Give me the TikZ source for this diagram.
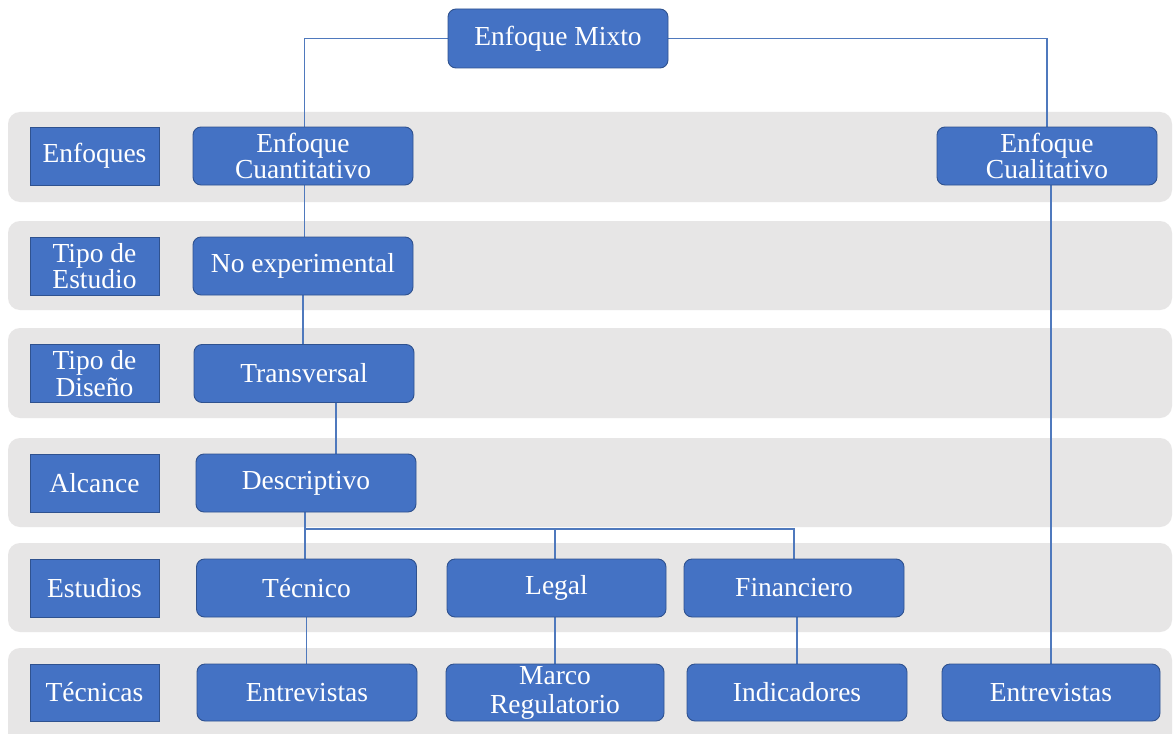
\documentclass[tikz,border=0pt]{standalone}
\usepackage{fontspec}
\setmainfont{Liberation Serif}
\usetikzlibrary{backgrounds}
\pgfdeclarelayer{lines}
\pgfsetlayers{background,lines,main}
\definecolor{boxblue}{RGB}{68,114,196}
\definecolor{boxborder}{RGB}{47,82,143}
\definecolor{linkblue}{RGB}{79,121,189}
\definecolor{bandgray}{RGB}{231,230,230}
\tikzset{
  stagebox/.style={draw=boxborder, fill=boxblue, rounded corners=8pt, text=white,
    align=center, inner sep=0pt, line width=0.9pt, minimum width=220pt, minimum height=58pt,
    font=\fontsize{27.5}{26.5}\selectfont},
  rowlabel/.style={stagebox, rounded corners=0pt, minimum width=129pt},
  band/.style={fill=bandgray, rounded corners=12pt},
  link/.style={draw=linkblue, line width=1.1pt}
}
\begin{document}
\begin{tikzpicture}[x=1pt,y=-1pt]
\useasboundingbox (0,0) rectangle (1174,733);
\clip (0,0) rectangle (1174,733);
% bands
\begin{pgfonlayer}{background}
\fill[white] (0,0) rectangle (1174,733);
\fill[band] (8,112) rectangle (1172,202);
\fill[band] (8,221) rectangle (1172,310);
\fill[band] (8,328) rectangle (1172,418);
\fill[band] (8,438) rectangle (1172,527);
\fill[band] (8,543) rectangle (1172,632);
\fill[band] (8,648) rectangle (1172,748);
\end{pgfonlayer}
% nodes
\node[stagebox, minimum height=59pt] (mixto) at (558,38.5) {Enfoque Mixto};
\node[rowlabel] (lenf) at (94.5,156) {Enfoques};
\node[stagebox] (cuant) at (303,156) {Enfoque\\Cuantitativo};
\node[stagebox] (cual) at (1047,156) {Enfoque\\Cualitativo};
\node[rowlabel] (lte) at (94.5,266) {Tipo de\\Estudio};
\node[stagebox] (noexp) at (303,266) {No experimental};
\node[rowlabel] (ltd) at (94.5,373.5) {Tipo de\\Diseño};
\node[stagebox] (transv) at (304,373.5) {Transversal};
\node[rowlabel] (lalc) at (94.5,483) {Alcance};
\node[stagebox] (desc) at (306,483) {Descriptivo};
\node[rowlabel] (lest) at (94.5,588) {Estudios};
\node[stagebox] (tec) at (306.5,588) {Técnico};
\node[stagebox, minimum width=219pt] (legal) at (556.5,588) {Legal};
\node[stagebox] (fin) at (794,588) {Financiero};
\node[rowlabel, minimum height=57pt] (ltecn) at (94.5,692.5) {Técnicas};
\node[stagebox, minimum height=57pt] (ent1) at (307,692.5) {Entrevistas};
\node[stagebox, minimum height=57pt, minimum width=218pt, font=\fontsize{27.5}{29}\selectfont] (marco) at (555,692.5) {Marco\\Regulatorio};
\node[stagebox, minimum height=57pt] (ind) at (797,692.5) {Indicadores};
\node[stagebox, minimum height=57pt, minimum width=218pt] (ent2) at (1051,692.5) {Entrevistas};
\coordinate (bus) at (305,529);
% connectors
\begin{pgfonlayer}{lines}
\draw[link] (mixto.west) -| ([xshift=1.5pt]cuant.north);
\draw[link] (mixto.east) -| (cual.north);
\draw[link] ([xshift=1.5pt]cuant.south) -- ([xshift=1.5pt]noexp.north);
\draw[link] (noexp.south) -- (noexp.south |- transv.north);
\draw[link] ([xshift=32pt]transv.south) -- ([xshift=32pt]transv.south |- desc.north);
\draw[link] (desc.south -| bus) -- (bus) -| (fin.north);
\draw[link] (bus) -- (tec.north -| bus);
\draw[link] (marco.north |- bus) -- (marco.north |- legal.north);
\draw[link] (tec.south) -- (tec.south |- ent1.north);
\draw[link] (marco.north |- legal.south) -- (marco.north);
\draw[link] (ind.north |- fin.south) -- (ind.north);
\draw[link] (ent2.north |- cual.south) -- (ent2.north);
\end{pgfonlayer}
\end{tikzpicture}
\end{document}
